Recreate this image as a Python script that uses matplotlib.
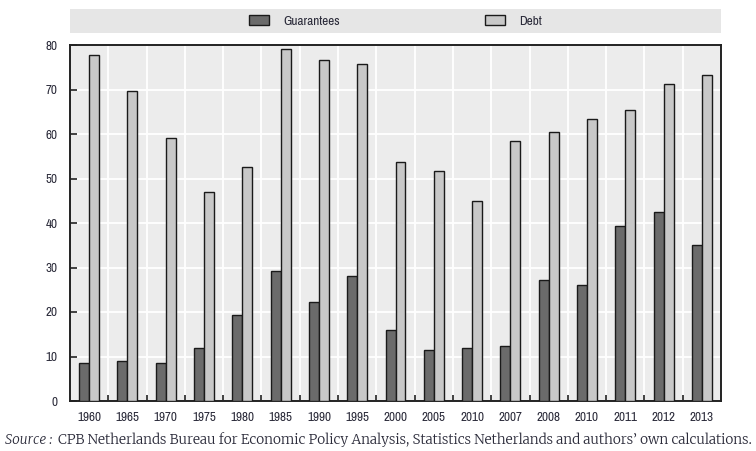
import matplotlib
matplotlib.use("Agg")
import matplotlib.pyplot as plt
from matplotlib.patches import Rectangle, Patch
import numpy as np

years = ["1960", "1965", "1970", "1975", "1980", "1985", "1990", "1995", "2000",
         "2005", "2010", "2007", "2008", "2010", "2011", "2012", "2013"]
guarantees = [8.6, 9.0, 8.6, 11.9, 19.3, 29.3, 22.2, 28.1, 16.0,
              11.5, 11.9, 12.4, 27.2, 26.0, 39.3, 42.5, 35.1]
debt = [77.8, 69.7, 59.2, 47.0, 52.6, 79.0, 76.6, 75.7, 53.7,
        51.7, 45.0, 58.4, 60.4, 63.3, 65.4, 71.2, 73.3]
yticks = [0, 10, 20, 30, 40, 50, 60, 70, 80]
legend_labels = ["Guarantees", "Debt"]
source_label = "Source :"
source_text = ("CPB Netherlands Bureau for Economic Policy Analysis, Statistics Netherlands "
               "and authors\u2019 own calculations.")

W, H = 756, 451
fig = plt.figure(figsize=(W / 100, H / 100), dpi=100)
L, R, T, B = 70, 721, 45, 401
ax = fig.add_axes([L / W, 1 - B / H, (R - L) / W, (B - T) / H])

tickfont = ['Archivo Narrow', 'PT Sans Narrow', 'DejaVu Sans']
txtcol = '#2b2b3a'
ax.set_facecolor('#ececec')
x = np.arange(len(years))
bw = 0.26
ax.bar(x - bw / 2, guarantees, bw, color='#6b6b6b', edgecolor='#1a1a1a', linewidth=1.0, zorder=3)
ax.bar(x + bw / 2, debt, bw, color='#c8c8c8', edgecolor='#1a1a1a', linewidth=1.0, zorder=3)

ax.set_xlim(-0.5, len(years) - 0.5)
ax.set_ylim(0, 80)
ax.set_yticks(yticks)
ax.set_yticklabels([str(v) for v in yticks], family=tickfont, fontsize=9.5, color=txtcol)
ax.set_xticks(x)
ax.set_xticklabels(years, family=tickfont, fontsize=9.5, color=txtcol)
ax.set_xticks(np.arange(0.5, len(years) - 1, 1.0), minor=True)
ax.tick_params(axis='x', which='major', length=0, pad=8)
ax.tick_params(axis='x', which='minor', direction='in', length=4, width=1.2, color='#222222')
ax.tick_params(axis='y', which='major', direction='in', length=5, width=1.2, color='#222222', pad=9)

ax.grid(True, which='minor', axis='x', color='white', linewidth=1.3, zorder=1)
ax.grid(True, which='major', axis='y', color='white', linewidth=1.3, zorder=1)
ax.set_axisbelow(True)
for s in ax.spines.values():
    s.set_color('#222222')
    s.set_linewidth(1.4)

# legend band
fig.patches.append(Rectangle((L / W, 1 - 33 / H), (R - L) / W, 24 / H,
                             transform=fig.transFigure, facecolor='#e6e6e6',
                             edgecolor='none', zorder=0))
handles = [Patch(facecolor='#6b6b6b', edgecolor='#1a1a1a', label=legend_labels[0]),
           Patch(facecolor='#c8c8c8', edgecolor='#1a1a1a', label=legend_labels[1])]
fig.legend(handles=handles, loc='center', bbox_to_anchor=((L + R) / 2 / W, 1 - 21 / H),
           ncol=2, frameon=False, prop={'family': tickfont, 'size': 9.5},
           labelcolor=txtcol, columnspacing=11, handlelength=1.5, handleheight=0.8,
           handletextpad=1.1)

# source line, scaled to span the figure width
ys = 1 - 440 / H
fig.canvas.draw()
rend = fig.canvas.get_renderer()
fs = 8.0
for _ in range(3):
    t1 = fig.text(5 / W, ys, source_label, family=['Merriweather', 'DejaVu Serif'], style='italic',
                  fontsize=fs, va='center', ha='left', color=txtcol)
    w1 = t1.get_window_extent(rend).width
    t2 = fig.text((5 + w1 + 6) / W, ys, source_text, family=['Merriweather', 'DejaVu Serif'],
                  fontsize=fs, va='center', ha='left', color=txtcol)
    w2 = t2.get_window_extent(rend).width
    total = w1 + 6 + w2
    t1.remove(); t2.remove()
    fs = fs * 748 / total
t1 = fig.text(5 / W, ys, source_label, family=['Merriweather', 'DejaVu Serif'], style='italic',
              fontsize=fs, va='center', ha='left', color=txtcol)
w1 = t1.get_window_extent(rend).width
fig.text((5 + w1 + 6) / W, ys, source_text, family=['Merriweather', 'DejaVu Serif'],
         fontsize=fs, va='center', ha='left', color=txtcol)

fig.savefig("out.png", dpi=100)
